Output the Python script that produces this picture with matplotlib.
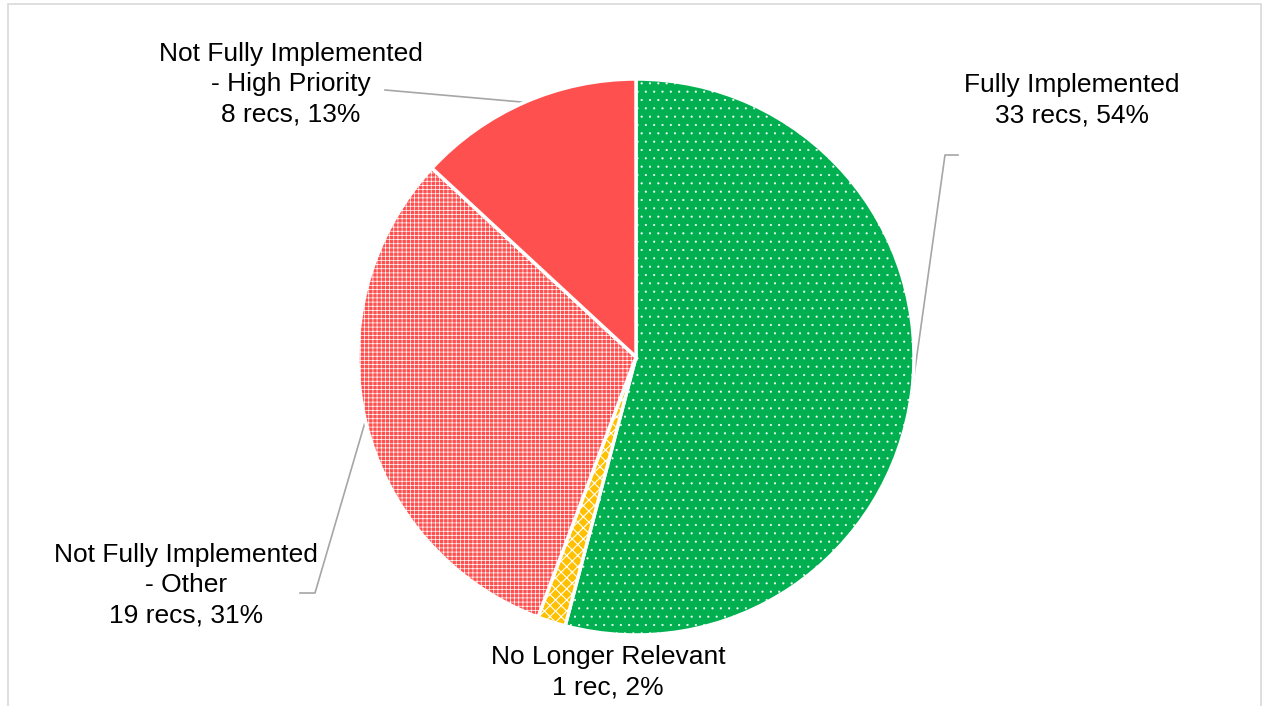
import matplotlib
matplotlib.use("Agg")
import matplotlib.pyplot as plt
import numpy as np
from matplotlib.patches import Rectangle

plt.rcParams['font.family'] = ['Liberation Sans', 'DejaVu Sans']

categories = ["Fully Implemented", "No Longer Relevant",
              "Not Fully Implemented\n- Other", "Not Fully Implemented\n- High Priority"]
counts = [33, 1, 19, 8]
percents = [54, 2, 31, 13]
colors = ["#00B050", "#FFC000", "#FF5050", "#FF5050"]
hatches = ["..", "xxx", "++++", None]
hatch_lw = [0.3, 0.8, 0.5, 0.8]

W, H = 1262, 706
CX, CY, R = 636, 357, 278

fig = plt.figure(figsize=(W / 100, H / 100), dpi=100)
ax = fig.add_axes([0, 0, 1, 1])

def px(x, y):
    return ((x - CX) / R, (CY - y) / R)

wedges, _ = ax.pie(counts, colors=colors, startangle=90, counterclock=False,
                   radius=1, center=(0, 0),
                   wedgeprops=dict(edgecolor='white', linewidth=2.5))
for w, h, lw in zip(wedges, hatches, hatch_lw):
    if h:
        w.set_hatch(h)
        w._hatch_linewidth = lw

ax.set_xlim(-CX / R, (W - CX) / R)
ax.set_ylim(-(H - CY) / R, CY / R)
ax.set_aspect('equal')
ax.axis('off')

# border frame
fig.patches.append(Rectangle((8 / W, -0.1), (1261 - 8) / W, 1.1 - 4 / H,
                             transform=fig.transFigure, fill=False,
                             edgecolor='#D9D9D9', linewidth=1.2))

def label_text(i):
    unit = "rec" if counts[i] == 1 else "recs"
    return f"{categories[i]}\n{counts[i]} {unit}, {percents[i]}%"

fs = 19
text_pos = [(1072, 100), (608, 672), (186, 585), (291, 84)]
for i, (tx, ty) in enumerate(text_pos):
    ax.text(*px(tx, ty), label_text(i), ha='center', va='center',
            fontsize=fs, color='#000000', linespacing=1.33)

# leader lines from wedge mid-angle
lc = '#A6A6A6'
def mid_point(w):
    th = np.deg2rad((w.theta1 + w.theta2) / 2)
    return np.cos(th), np.sin(th)

leaders = {0: [(945, 155), (958, 155)],
           2: [(315, 593), (300, 593)],
           3: [(385, 90)]}
for i, pts in leaders.items():
    x0, y0 = mid_point(wedges[i])
    xs = [x0] + [px(*p)[0] for p in pts]
    ys = [y0] + [px(*p)[1] for p in pts]
    ax.plot(xs, ys, color=lc, linewidth=1.2, zorder=0)

fig.savefig("out.png", dpi=100)
